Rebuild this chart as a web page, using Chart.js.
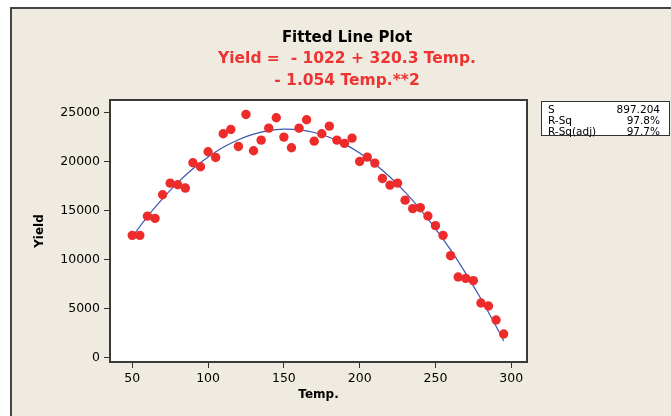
<!DOCTYPE html>
<html>
<head>
<meta charset="utf-8">
<script src="https://cdn.jsdelivr.net/npm/chart.js@4/dist/chart.umd.min.js"></script>
<style>
  body { margin: 0; background: #ffffff; }
  #wrap { width: 671px; height: 416px; }
</style>
</head>
<body>
<div id="wrap"><canvas id="fitted" width="671" height="416"></canvas></div>
<script>
"use strict";

// observed points (Temp., Yield)
var temps = [50, 55, 60, 65, 70, 75, 80, 85, 90, 95,
    100, 105, 110, 115, 120, 125, 130, 135, 140, 145,
    150, 155, 160, 165, 170, 175, 180, 185, 190, 195,
    200, 205, 210, 215, 220, 225, 230, 235, 240, 245,
    250, 255, 260, 265, 270, 275, 280, 285, 290, 295];
var yields = [12490, 12490, 14450, 14220, 16630, 17810, 17650, 17310, 19890, 19480,
    21010, 20430, 22840, 23280, 21550, 24810, 21110, 22190, 23410, 24470,
    22500, 21420, 23410, 24270, 22090, 22840, 23620, 22190, 21860, 22400,
    20020, 20460, 19850, 18290, 17610, 17810, 16080, 15210, 15310, 14460,
    13480, 12490, 10420, 8250, 8110, 7880, 5600, 5290, 3870, 2440];

// fitted quadratic, read at these temperatures
var fitTemps = [50, 60, 70, 80, 90, 100, 110, 120, 130, 140, 150, 160, 170,
    180, 190, 200, 210, 220, 230, 240, 250, 260, 270, 280, 290, 295];
var fitYields = [12358, 14402, 16234, 17856, 19268, 20468, 21458, 22236, 22804, 23162, 23308, 23244, 22968,
    22482, 21786, 20878, 19760, 18430, 16890, 15140, 13178, 11006, 8622, 6028, 3224, 1742];

var xTicks = [50, 100, 150, 200, 250, 300];
var yTicks = [0, 5000, 10000, 15000, 20000, 25000];

var titleLines = ["Fitted Line Plot", "Yield =  - 1022 + 320.3 Temp.", "- 1.054 Temp.**2"];
var statNames = ["S", "R-Sq", "R-Sq(adj)"];
var statValues = ["897.204", "97.8%", "97.7%"];

var FONT = '"DejaVu Sans", Verdana, sans-serif';

var framePlugin = {
    id: "frame",
    beforeDraw: function (chart) {
        var ctx = chart.ctx;
        var area = chart.chartArea;
        ctx.save();
        ctx.fillStyle = "#ffffff";
        ctx.fillRect(0, 0, chart.width, chart.height);
        ctx.fillStyle = "#efebe0";
        ctx.fillRect(11, 8, chart.width - 11, chart.height - 8);
        ctx.strokeStyle = "#444444";
        ctx.lineWidth = 2;
        ctx.beginPath();
        ctx.moveTo(11, chart.height);
        ctx.lineTo(11, 8);
        ctx.lineTo(chart.width, 8);
        ctx.stroke();
        ctx.fillStyle = "#ffffff";
        ctx.fillRect(area.left, area.top, area.right - area.left, area.bottom - area.top);
        ctx.restore();
    },
    afterDraw: function (chart) {
        var ctx = chart.ctx;
        var area = chart.chartArea;
        ctx.save();
        // plot border
        ctx.strokeStyle = "#3a3a3a";
        ctx.lineWidth = 2;
        ctx.strokeRect(area.left, area.top, area.right - area.left, area.bottom - area.top);

        // titles
        ctx.textAlign = "center";
        ctx.textBaseline = "middle";
        ctx.fillStyle = "#000000";
        ctx.font = "bold 15px " + FONT;
        ctx.fillText(titleLines[0], 347, 38);
        ctx.fillStyle = "#ee3333";
        ctx.font = "bold 15.5px " + FONT;
        ctx.fillText(titleLines[1], 347, 59);
        ctx.fillText(titleLines[2], 347, 81);

        // stats box
        ctx.fillStyle = "#ffffff";
        ctx.fillRect(541.5, 101.5, 128, 34);
        ctx.strokeStyle = "#333333";
        ctx.lineWidth = 1;
        ctx.strokeRect(541.5, 101.5, 128, 34);
        ctx.fillStyle = "#000000";
        ctx.font = "10.5px " + FONT;
        statNames.forEach(function (name, i) {
            var y = 110 + i * 11;
            ctx.textAlign = "left";
            ctx.fillText(name, 548, y);
            ctx.textAlign = "right";
            ctx.fillText(statValues[i], 660, y);
        });
        ctx.restore();
    },
};

new Chart(document.getElementById("fitted"), {
    type: "scatter",
    data: {
        datasets: [
            {
                label: "Fit",
                type: "line",
                data: fitTemps.map(function (t, i) {
                    return { x: t, y: fitYields[i] };
                }),
                borderColor: "#3a57b0",
                borderWidth: 1.2,
                pointRadius: 0,
                tension: 0.4,
                fill: false,
                order: 2,
            },
            {
                label: "Yield",
                data: temps.map(function (t, i) {
                    return { x: t, y: yields[i] };
                }),
                backgroundColor: "#ee2b2b",
                borderWidth: 0,
                pointRadius: 4.7,
                order: 1,
            },
        ],
    },
    options: {
        responsive: false,
        animation: false,
        devicePixelRatio: 1,
        layout: {
            padding: { top: 100, left: 0, right: 144, bottom: 0 },
        },
        plugins: {
            legend: { display: false },
            title: { display: false },
            tooltip: { enabled: false },
        },
        scales: {
            x: {
                type: "linear",
                min: 35.3,
                max: 310.4,
                afterFit: function (scale) {
                    scale.height = 54;
                },
                afterBuildTicks: function (scale) {
                    scale.ticks = xTicks.map(function (v) {
                        return { value: v };
                    });
                },
                grid: {
                    drawOnChartArea: false,
                    drawTicks: true,
                    tickLength: 6,
                    color: "#333333",
                },
                border: { display: false },
                ticks: {
                    padding: 3,
                    color: "#000000",
                    font: { family: FONT, size: 12.5 },
                    callback: function (v) {
                        return String(v);
                    },
                },
                title: {
                    display: true,
                    text: "Temp.",
                    color: "#000000",
                    font: { family: FONT, size: 12, weight: "bold" },
                    padding: { top: 0, bottom: 14 },
                },
            },
            y: {
                type: "linear",
                min: -410,
                max: 26280,
                afterFit: function (scale) {
                    scale.width = 110;
                },
                afterBuildTicks: function (scale) {
                    scale.ticks = yTicks.map(function (v) {
                        return { value: v };
                    });
                },
                grid: {
                    drawOnChartArea: false,
                    drawTicks: true,
                    tickLength: 6,
                    color: "#333333",
                },
                border: { display: false },
                ticks: {
                    padding: 4,
                    color: "#000000",
                    font: { family: FONT, size: 12.5 },
                    callback: function (v) {
                        return String(v);
                    },
                },
                title: {
                    display: true,
                    text: "Yield",
                    color: "#000000",
                    font: { family: FONT, size: 12, weight: "bold" },
                    padding: { top: 33, bottom: 0 },
                },
            },
        },
    },
    plugins: [framePlugin],
});
</script>
</body>
</html>
